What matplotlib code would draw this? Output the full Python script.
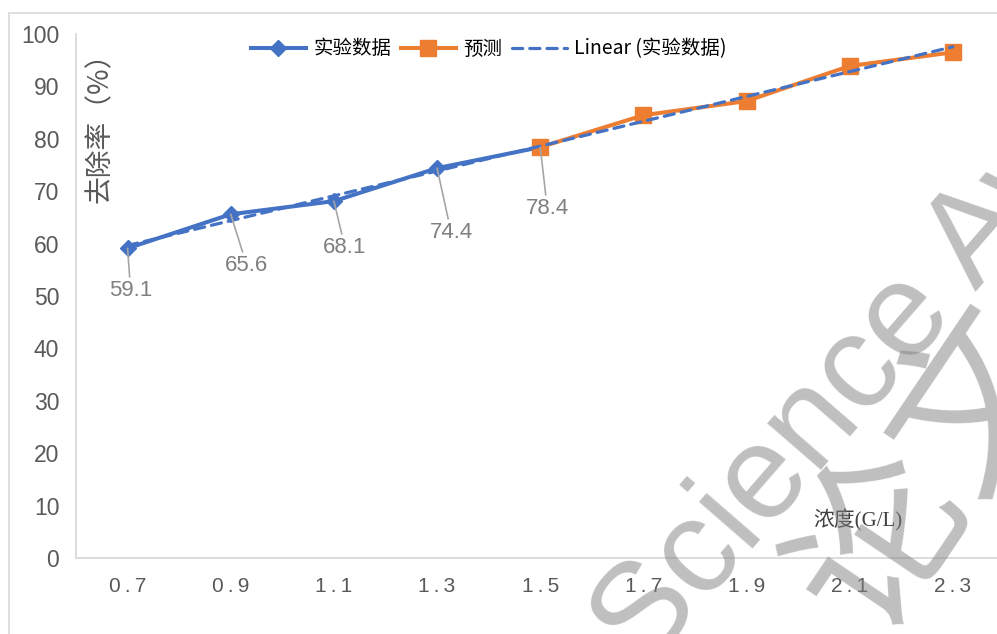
import numpy as np
import matplotlib
matplotlib.use("Agg")
import matplotlib.pyplot as plt
from matplotlib.patches import Rectangle
from matplotlib.lines import Line2D

# data
conc = ["0.7", "0.9", "1.1", "1.3", "1.5", "1.7", "1.9", "2.1", "2.3"]
exp_vals = [59.1, 65.6, 68.1, 74.4, 78.4]          # 实验数据 (0.7-1.5)
pred_vals = [78.4, 84.5, 87.2, 93.9, 96.5]         # 预测 (1.5-2.3)
y_ticks = [0, 10, 20, 30, 40, 50, 60, 70, 80, 90, 100]

# label offsets in pixels (dx, dy), styling only
label_off = [(3, -42), (16, -51), (11, -46), (14, -64), (7, -61)]

BLUE = "#4472C4"
ORANGE = "#ED7D31"
LAT = ["Liberation Sans", "Noto Sans CJK SC", "DejaVu Sans"]
CJK = ["Noto Sans CJK SC", "Liberation Sans", "DejaVu Sans"]

plt.rcParams["font.family"] = LAT

fig = plt.figure(figsize=(9.97, 6.34), dpi=100)
ax = fig.add_axes([76 / 997, 76 / 634, 928.5 / 997, 524 / 634])

x = np.arange(len(conc))
x_exp = x[:len(exp_vals)]
x_pred = x[len(exp_vals) - 1:]

# linear trendline of the experimental series, extended over all categories
k, b = np.polyfit(x_exp, exp_vals, 1)
trend = k * x + b

ax.plot(x_exp, exp_vals, color=BLUE, lw=2.9, marker="D", ms=8,
        zorder=3, clip_on=False)
ax.plot(x_pred, pred_vals, color=ORANGE, lw=2.9, marker="s", ms=11.5,
        zorder=4, clip_on=False)
ax.plot(x, trend, color=BLUE, lw=2.3, linestyle=(0, (3.2, 2.2)),
        dash_capstyle="round", zorder=5, clip_on=False)

for xi, v, (dx, dy) in zip(x_exp, exp_vals, label_off):
    ax.annotate(f"{v:.1f}", xy=(xi, v), xytext=(dx, dy),
                textcoords="offset pixels", ha="center", va="center",
                fontsize=16, color="#7F7F7F",
                arrowprops=dict(arrowstyle="-", color="#A6A6A6", lw=1.2,
                                shrinkA=0, shrinkB=0), zorder=6)

ax.set_xlim(-0.5, len(conc) - 0.5)
ax.set_ylim(0, 100)
ax.set_yticks(y_ticks)
ax.set_xticks(x)
ax.set_xticklabels(["\u2009".join(c) for c in conc])
ax.tick_params(axis="y", length=0, pad=12, labelsize=16.5, labelcolor="#595959")
ax.tick_params(axis="x", length=0, pad=14, labelsize=15, labelcolor="#595959")

for s in ["top", "right"]:
    ax.spines[s].set_visible(False)
for s in ["left", "bottom"]:
    ax.spines[s].set_color("#D9D9D9")
    ax.spines[s].set_linewidth(1.3)

# axis titles placed inside the plot like the reference
fig.text(100 / 997, 1 - 121 / 634, "去除率（%）", rotation=90, ha="center",
         va="center", fontsize=20, color="#595959", family=CJK)
fig.text(858 / 997, 1 - 520 / 634, "浓度(G/L)", ha="center", va="center",
         fontsize=15, color="#404040",
         family=["Liberation Serif", "Noto Sans CJK SC", "DejaVu Sans"])

handles = [
    Line2D([], [], color=BLUE, lw=2.9, marker="D", ms=8),
    Line2D([], [], color=ORANGE, lw=2.9, marker="s", ms=11.5),
    Line2D([], [], color=BLUE, lw=2.3, linestyle=(0, (3.2, 2.2)),
           dash_capstyle="round"),
]
fig.legend(handles, ["实验数据", "预测", "Linear (实验数据)"],
           loc="center", bbox_to_anchor=(489 / 997, 1 - 49 / 634),
           ncol=3, frameon=False, handlelength=2.8,
           handletextpad=0.4, columnspacing=0.5,
           prop={"family": CJK, "size": 14})

# chart border (runs off the right and bottom edges)
fig.patches.append(Rectangle((9 / 997, -0.5), 2, 0.5 + 1 - 12.5 / 634,
                             transform=fig.transFigure, fill=False,
                             edgecolor="#D9D9D9", lw=1.2))

# watermark
fig.text(645 / 997, 1 - 672 / 634, "Science Aw", rotation=49,
         rotation_mode="anchor", ha="left", va="baseline", fontsize=96,
         color="#808080", alpha=0.5, family=LAT, zorder=10)
fig.text(930 / 997, 1 - 470 / 634, "论文", rotation=56,
         rotation_mode="anchor", ha="center", va="center", fontsize=124,
         color="#808080", alpha=0.5, family=CJK, zorder=10)

fig.savefig("out.png", dpi=100)
